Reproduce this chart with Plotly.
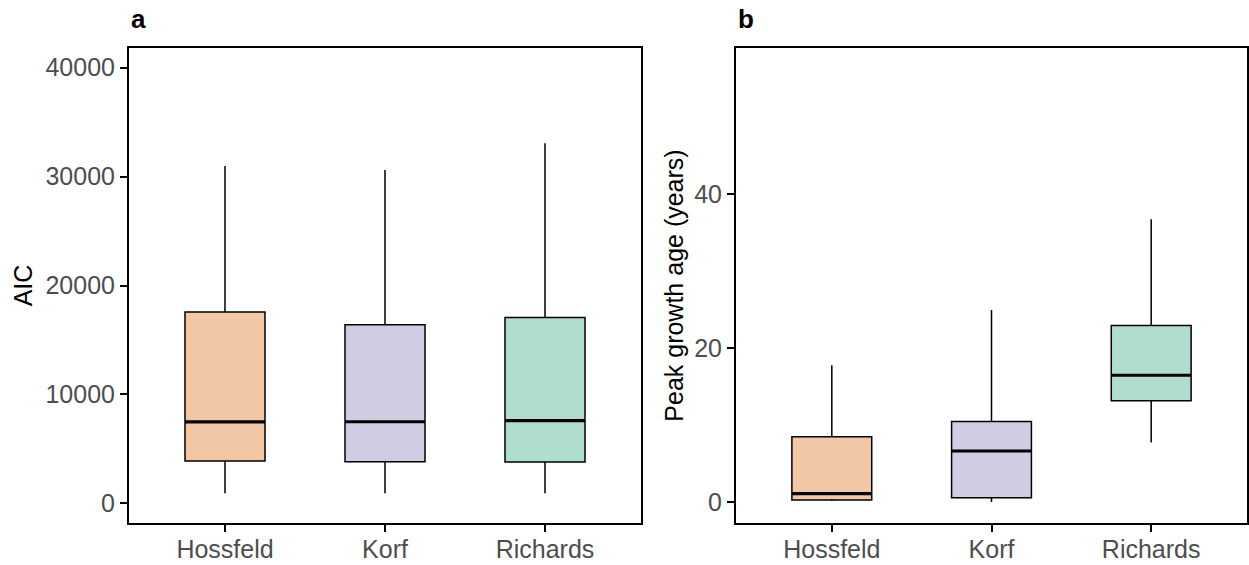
import plotly.graph_objects as go

# Growth models compared
models = ["Hossfeld", "Korf", "Richards"]

# Panel a: AIC summary statistics per model
aic_lower = [920, 920, 920]
aic_q1 = [3880, 3820, 3790]
aic_median = [7470, 7490, 7590]
aic_q3 = [17570, 16400, 17050]
aic_upper = [30970, 30610, 33060]

# Panel b: peak growth age (years) summary statistics per model
age_lower = [0.17, 0.04, 7.75]
age_q1 = [0.3, 0.6, 13.2]
age_median = [1.13, 6.66, 16.5]
age_q3 = [8.5, 10.5, 22.95]
age_upper = [17.8, 24.97, 36.75]

fills = ["#F2C7A6", "#CFCDE4", "#AFDDCF"]
BOX_W = 0.5
FONT = "Liberation Sans, Arial, Helvetica, sans-serif"

fig = go.Figure()


def add_panel(xa, ya, lower, q1, med, q3, upper):
    for i, name in enumerate(models):
        fig.add_trace(go.Box(
            x=[i], q1=[q1[i]], median=[med[i]], q3=[q3[i]],
            lowerfence=[lower[i]], upperfence=[upper[i]],
            width=BOX_W, whiskerwidth=0,
            fillcolor=fills[i], line=dict(color="black", width=1.5),
            boxpoints=False, hoverinfo="skip", showlegend=False,
            xaxis=xa, yaxis=ya,
        ))
        # thicker median bar, as in ggplot's boxplot
        fig.add_trace(go.Scatter(
            x=[i - BOX_W / 2, i + BOX_W / 2], y=[med[i], med[i]],
            mode="lines", line=dict(color="black", width=3.2),
            hoverinfo="skip", showlegend=False, xaxis=xa, yaxis=ya,
        ))


add_panel("x", "y", aic_lower, aic_q1, aic_median, aic_q3, aic_upper)
add_panel("x2", "y2", age_lower, age_q1, age_median, age_q3, age_upper)

W, H = 1249, 565
common_axis = dict(
    showline=True, mirror=True, linecolor="black", linewidth=2,
    ticks="outside", ticklen=7, tickwidth=2, tickcolor="black",
    showgrid=False, zeroline=False,
    tickfont=dict(family=FONT, size=25, color="#4D4D4D"),
)

xa = dict(common_axis, tickvals=[0, 1, 2], ticktext=models, range=[-0.6, 2.6],
          ticklabelstandoff=-4)
ydom = [42 / H, 517 / H]

fig.update_layout(
    width=W, height=H,
    margin=dict(l=0, r=0, t=0, b=0),
    paper_bgcolor="white", plot_bgcolor="white",
    font=dict(family=FONT),
    xaxis=dict(xa, domain=[129 / W, 641 / W], anchor="y"),
    xaxis2=dict(xa, domain=[736 / W, 1247 / W], anchor="y2"),
    yaxis=dict(common_axis, domain=ydom, anchor="x",
               range=[-1810, 41810],
               tickvals=[0, 10000, 20000, 30000, 40000],
               ticktext=["0", "10000", "20000", "30000", "40000"],
               title=dict(text="AIC", font=dict(family=FONT, size=25, color="black"),
                          standoff=6)),
    yaxis2=dict(common_axis, domain=ydom, anchor="x2",
                range=[-2.69, 59.0],
                tickvals=[0, 20, 40],
                ticktext=["0", "20", "40"],
                title=dict(text="Peak growth age (years)",
                           font=dict(family=FONT, size=25, color="black"),
                           standoff=3)),
    annotations=[
        dict(text="<b>a</b>", x=129 / W, y=1 - 19 / H, xref="paper", yref="paper",
             xanchor="left", yanchor="middle", showarrow=False,
             font=dict(family=FONT, size=26, color="black")),
        dict(text="<b>b</b>", x=736 / W, y=1 - 19 / H, xref="paper", yref="paper",
             xanchor="left", yanchor="middle", showarrow=False,
             font=dict(family=FONT, size=26, color="black")),
    ],
)

fig.write_html("out.html")
